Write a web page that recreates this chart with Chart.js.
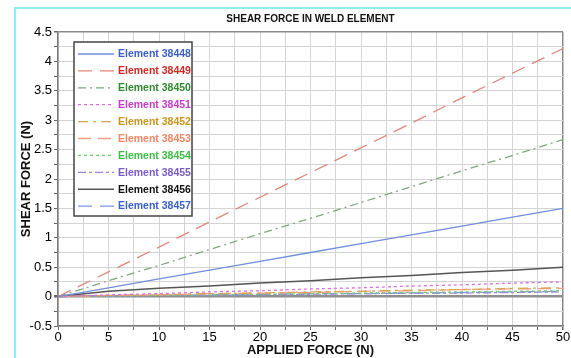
<!DOCTYPE html>
<html>
<head>
<meta charset="utf-8">
<script src="https://cdn.jsdelivr.net/npm/chart.js@4/dist/chart.umd.min.js"></script>
<style>
  html, body { margin: 0; padding: 0; background: #ffffff; }
  #wrap { width: 571px; height: 358px; position: relative; }
</style>
</head>
<body>
<div id="wrap"><canvas id="c" width="571" height="358"></canvas></div>
<script>
// Applied force (N) sample points
const appliedForce = [0, 5, 10, 15, 20, 25, 30, 35, 40, 45, 50];

// Shear force (N) per weld element
const element38448 = [0, 0.15, 0.30, 0.45, 0.60, 0.75, 0.90, 1.05, 1.20, 1.35, 1.50];
const element38449 = [0, 0.42, 0.84, 1.27, 1.69, 2.11, 2.53, 2.95, 3.38, 3.80, 4.22];
const element38450 = [0, 0.27, 0.53, 0.80, 1.07, 1.33, 1.60, 1.87, 2.14, 2.40, 2.67];
const element38451 = [0, 0.03, 0.05, 0.08, 0.10, 0.13, 0.15, 0.18, 0.20, 0.23, 0.25];
const element38452 = [0, 0.02, 0.03, 0.05, 0.06, 0.08, 0.09, 0.11, 0.12, 0.14, 0.15];
const element38453 = [0, 0.02, 0.03, 0.05, 0.06, 0.07, 0.09, 0.10, 0.12, 0.13, 0.14];
const element38454 = [0, 0.01, 0.02, 0.03, 0.04, 0.05, 0.06, 0.07, 0.08, 0.09, 0.10];
const element38455 = [0, 0.01, 0.02, 0.02, 0.03, 0.04, 0.05, 0.06, 0.06, 0.07, 0.08];
const element38456 = [0, 0.09, 0.14, 0.18, 0.23, 0.27, 0.32, 0.36, 0.41, 0.45, 0.50];
const element38457 = [0, 0.01, 0.02, 0.03, 0.04, 0.05, 0.05, 0.06, 0.07, 0.08, 0.09];

const seriesNames = ['Element 38448', 'Element 38449', 'Element 38450', 'Element 38451', 'Element 38452',
                     'Element 38453', 'Element 38454', 'Element 38455', 'Element 38456', 'Element 38457'];
const seriesValues = [element38448, element38449, element38450, element38451, element38452,
                      element38453, element38454, element38455, element38456, element38457];

// Tick label sets
const xTickLabels = ['0', '5', '10', '15', '20', '25', '30', '35', '40', '45', '50'];
const yTickLabels = ['-0.5', '0', '0.5', '1', '1.5', '2', '2.5', '3', '3.5', '4', '4.5'];

// Line and label styling per series
const lineColors = ['#6f8fdc', '#e0867c', '#7fa87f', '#dd6ee0', '#d7a650', '#f59a80', '#6dd06d', '#9b86d8', '#555555', '#7b9be0'];
const textColors = ['#3c5fc8', '#cc2a22', '#2f8a2f', '#c43cc8', '#c9961e', '#f08866', '#3dbd46', '#7a5cc8', '#111111', '#3c5fc8'];
const dashes = [[], [14, 8], [8, 4, 2, 4], [3, 3], [10, 5, 3, 5], [13, 7], [3, 3], [8, 3, 3, 3], [], [14, 8]];

const datasets = seriesNames.map((name, i) => ({
  label: name,
  data: appliedForce.map((x, j) => ({ x: x, y: seriesValues[i][j] })),
  borderColor: lineColors[i],
  borderWidth: i === 8 ? 1.5 : 1.3,
  borderDash: dashes[i],
  pointRadius: 0,
  fill: false,
  tension: 0,
  textColor: textColors[i]
}));

// White page with a cyan frame behind the chart
const framePlugin = {
  id: 'frame',
  beforeDraw(chart) {
    const ctx = chart.ctx;
    ctx.save();
    ctx.fillStyle = '#ffffff';
    ctx.fillRect(0, 0, chart.width, chart.height);
    ctx.strokeStyle = '#86eef5';
    ctx.lineWidth = 2;
    ctx.strokeRect(15, 8, 700, 500);
    ctx.restore();
  }
};

// Boxed legend in the upper-left of the plot
const boxLegendPlugin = {
  id: 'boxLegend',
  afterDraw(chart) {
    const ctx = chart.ctx;
    const area = chart.chartArea;
    const bx = area.left + 16, by = area.top + 10, bw = 118, bh = 174;
    ctx.save();
    ctx.fillStyle = '#ffffff';
    ctx.fillRect(bx, by, bw, bh);
    ctx.strokeStyle = '#444444';
    ctx.lineWidth = 1.5;
    ctx.strokeRect(bx, by, bw, bh);
    ctx.font = 'bold 10.5px "Liberation Sans", Arial, sans-serif';
    ctx.textBaseline = 'middle';
    chart.data.datasets.forEach((ds, i) => {
      const yy = by + 12 + i * 16.9;
      ctx.strokeStyle = ds.borderColor;
      ctx.lineWidth = ds.borderWidth;
      ctx.setLineDash(ds.borderDash);
      ctx.beginPath();
      ctx.moveTo(bx + 4, yy);
      ctx.lineTo(bx + 40, yy);
      ctx.stroke();
      ctx.setLineDash([]);
      ctx.fillStyle = ds.textColor;
      ctx.fillText(ds.label, bx + 44, yy + 0.5);
    });
    ctx.restore();
  }
};

const isMajor = (v, step) => Math.abs(v / step - Math.round(v / step)) < 1e-6;

new Chart(document.getElementById('c'), {
  type: 'line',
  data: { datasets: datasets },
  plugins: [framePlugin, boxLegendPlugin],
  options: {
    responsive: false,
    animation: false,
    layout: { padding: { left: 0, right: 8, top: 0, bottom: 0 } },
    plugins: {
      legend: { display: false },
      tooltip: { enabled: false },
      title: {
        display: true,
        text: 'SHEAR FORCE IN WELD ELEMENT',
        fullSize: false,
        color: '#111111',
        font: { family: '"Liberation Sans", Arial, sans-serif', size: 10, weight: 'bold' },
        padding: { top: 13, bottom: 7 }
      }
    },
    scales: {
      x: {
        type: 'linear',
        min: 0,
        max: 50,
        afterBuildTicks(scale) {
          const t = [];
          for (let k = 0; k <= 20; k++) t.push({ value: k * 2.5 });
          scale.ticks = t;
        },
        afterFit(scale) { scale.height = 32; },
        ticks: {
          autoSkip: false,
          maxRotation: 0,
          padding: 0,
          color: '#000000',
          font: { family: '"Liberation Sans", Arial, sans-serif', size: 13 },
          callback(v) {
            if (!isMajor(v, 5)) return '';
            return xTickLabels[Math.round(v / 5)];
          }
        },
        grid: {
          color: (c) => (c.tick && c.tick.value === 50 ? '#8a8a8a' : '#d4d4d4'),
          lineWidth: (c) => (c.tick && c.tick.value === 50 ? 1.5 : 1),
          tickLength: 4,
          tickColor: '#666666'
        },
        border: { color: '#7a7a7a', width: 1.5 },
        title: {
          display: true,
          text: 'APPLIED FORCE (N)',
          color: '#111111',
          font: { family: '"Liberation Sans", Arial, sans-serif', size: 13, weight: 'bold' },
          padding: { top: 0, bottom: 0 }
        }
      },
      y: {
        type: 'linear',
        min: -0.5,
        max: 4.5,
        afterBuildTicks(scale) {
          const t = [];
          for (let k = 0; k <= 20; k++) t.push({ value: -0.5 + k * 0.25 });
          scale.ticks = t;
        },
        afterFit(scale) { scale.width = 58; },
        ticks: {
          autoSkip: false,
          padding: 2,
          color: '#000000',
          font: { family: '"Liberation Sans", Arial, sans-serif', size: 13 },
          callback(v) {
            if (!isMajor(v, 0.5)) return '';
            return yTickLabels[Math.round((v + 0.5) / 0.5)];
          }
        },
        grid: {
          color: (c) => {
            if (!c.tick) return '#d4d4d4';
            if (Math.abs(c.tick.value) < 1e-9) return '#8f8f8f';
            if (Math.abs(c.tick.value - 4.5) < 1e-9) return '#8a8a8a';
            return '#d4d4d4';
          },
          lineWidth: (c) => {
            if (!c.tick) return 1;
            if (Math.abs(c.tick.value) < 1e-9) return 2.5;
            if (Math.abs(c.tick.value - 4.5) < 1e-9) return 1.5;
            return 1;
          },
          tickLength: 4,
          tickColor: '#666666'
        },
        border: { color: '#7a7a7a', width: 1.5 },
        title: {
          display: true,
          text: 'SHEAR FORCE (N)',
          color: '#111111',
          font: { family: '"Liberation Sans", Arial, sans-serif', size: 13, weight: 'bold' },
          padding: { top: 19, bottom: 0 }
        }
      }
    }
  }
});
</script>
</body>
</html>
